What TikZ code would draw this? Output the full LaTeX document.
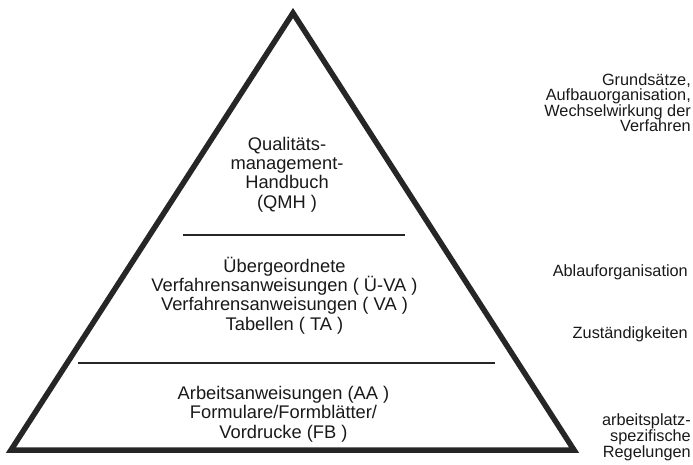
\documentclass[tikz,border=0pt]{standalone}
\usepackage{fontspec}
\setmainfont{Liberation Sans}
\begin{document}
\begin{tikzpicture}[x=1pt,y=-1pt,
  tri/.style={line width=5.5pt,line join=miter,draw=black!85},
  sep/.style={line width=2.8pt,draw=black!85},
  pyr/.style={inner sep=0pt,align=center,font=\fontsize{18.3}{19.3}\selectfont,text=black!90},
  side/.style={inner sep=0pt,align=right,font=\fontsize{16.3}{15.6}\selectfont,text=black!90}]
\useasboundingbox (0,0) rectangle (693,465);
\coordinate (apex) at (293,13);
\coordinate (bl) at (11,450);
\coordinate (br) at (574,450);
\coordinate (s1l) at (183,235);
\coordinate (s1r) at (405,235);
\coordinate (s2l) at (78,363);
\coordinate (s2r) at (495,363);
\draw[tri] (apex) -- (bl) -- (br) -- cycle;
\draw[sep] (s1l) -- (s1r);
\draw[sep] (s2l) -- (s2r);
\node[pyr,anchor=base] (qmh) at (287,208) {Qualitäts-\\management-\\Handbuch\\(QMH )};
\node[pyr,anchor=base] (va) at (284.5,330) {Übergeordnete\\Verfahrensanweisungen ( Ü-VA )\\Verfahrensanweisungen ( VA )\\Tabellen ( TA )};
\node[pyr,anchor=base] (aa) at (283.5,438) {Arbeitsanweisungen (AA )\\Formulare/Formblätter/\\Vordrucke (FB )};
\node[side,anchor=base east] (grund) at (691,132) {Grundsätze,\\Aufbauorganisation,\\Wechselwirkung der\\Verfahren};
\node[side,anchor=base east] (ablauf) at (688,276) {Ablauforganisation};
\node[side,anchor=base east] (zust) at (688,338) {Zuständigkeiten};
\node[side,anchor=base east] (arb) at (691,457) {arbeitsplatz-\\spezifische\\Regelungen};
\end{tikzpicture}
\end{document}
